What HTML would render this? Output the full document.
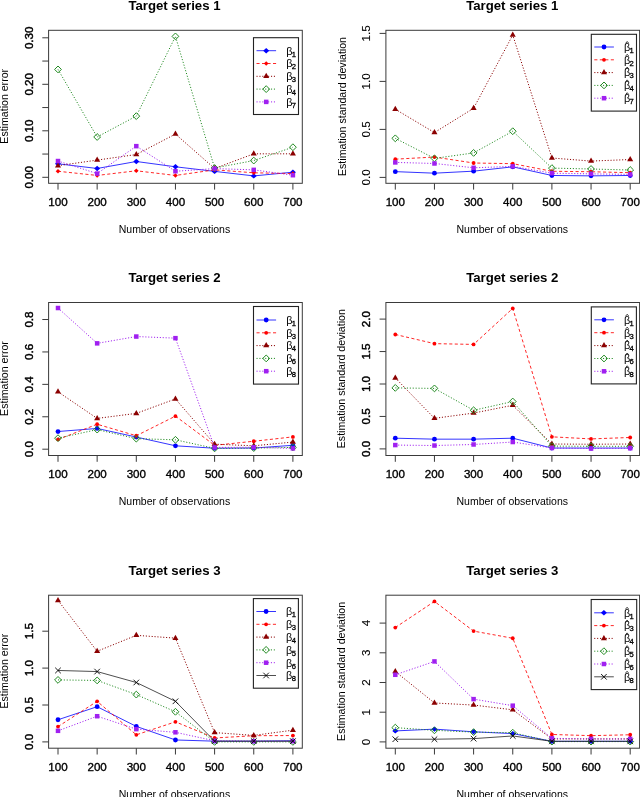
<!DOCTYPE html>
<html><head><meta charset="utf-8"><style>
html,body{margin:0;padding:0;background:#fff;width:640px;height:797px;overflow:hidden}
svg{display:block;filter:blur(0.4px)}
text{font-family:"Liberation Sans", sans-serif}
</style></head><body>
<svg width="640" height="797" viewBox="0 0 640 797" font-family='"Liberation Sans", sans-serif'>
<rect width="640" height="797" fill="#fff"/>
<path d="M58.00 163.81L97.15 168.47L136.30 161.49L175.45 166.79L214.60 171.39L253.75 175.91L292.90 172.19" fill="none" stroke="#0000FF" stroke-width="0.8"/>
<path d="M58.00 161.12L61.00 163.81L58.00 166.51L55.00 163.81Z" fill="#0000FF"/>
<path d="M97.15 165.77L100.15 168.47L97.15 171.16L94.15 168.47Z" fill="#0000FF"/>
<path d="M136.30 158.79L139.30 161.49L136.30 164.19L133.30 161.49Z" fill="#0000FF"/>
<path d="M175.45 164.09L178.45 166.79L175.45 169.49L172.45 166.79Z" fill="#0000FF"/>
<path d="M214.60 168.69L217.60 171.39L214.60 174.09L211.60 171.39Z" fill="#0000FF"/>
<path d="M253.75 173.21L256.75 175.91L253.75 178.60L250.75 175.91Z" fill="#0000FF"/>
<path d="M292.90 169.49L295.90 172.19L292.90 174.88L289.90 172.19Z" fill="#0000FF"/>
<path d="M58.00 171.26L97.15 175.44L136.30 170.79L175.45 175.44L214.60 169.86L253.75 172.79L292.90 173.58" fill="none" stroke="#FF0000" stroke-width="0.85" stroke-dasharray="3.1,2.4"/>
<path d="M58.00 168.96L60.30 171.26L58.00 173.56L55.70 171.26Z" fill="#FF0000"/>
<path d="M97.15 173.14L99.45 175.44L97.15 177.74L94.85 175.44Z" fill="#FF0000"/>
<path d="M136.30 168.49L138.60 170.79L136.30 173.09L134.00 170.79Z" fill="#FF0000"/>
<path d="M175.45 173.14L177.75 175.44L175.45 177.74L173.15 175.44Z" fill="#FF0000"/>
<path d="M214.60 167.56L216.90 169.86L214.60 172.16L212.30 169.86Z" fill="#FF0000"/>
<path d="M253.75 170.49L256.05 172.79L253.75 175.09L251.45 172.79Z" fill="#FF0000"/>
<path d="M292.90 171.28L295.20 173.58L292.90 175.88L290.60 173.58Z" fill="#FF0000"/>
<path d="M58.00 165.68L97.15 160.10L136.30 154.52L175.45 134.06L214.60 168.47L253.75 153.82L292.90 153.82" fill="none" stroke="#8B0000" stroke-width="1.0" stroke-dasharray="1.1,1.8"/>
<path d="M58.00 162.18L61.03 167.43L54.97 167.43Z" fill="#8B0000"/>
<path d="M97.15 156.60L100.18 161.85L94.12 161.85Z" fill="#8B0000"/>
<path d="M136.30 151.02L139.33 156.27L133.27 156.27Z" fill="#8B0000"/>
<path d="M175.45 130.56L178.48 135.81L172.42 135.81Z" fill="#8B0000"/>
<path d="M214.60 164.97L217.63 170.22L211.57 170.22Z" fill="#8B0000"/>
<path d="M253.75 150.32L256.78 155.57L250.72 155.57Z" fill="#8B0000"/>
<path d="M292.90 150.32L295.93 155.57L289.87 155.57Z" fill="#8B0000"/>
<path d="M58.00 69.42L97.15 136.98L136.30 116.11L175.45 36.41L214.60 168.00L253.75 160.56L292.90 147.21" fill="none" stroke="#228B22" stroke-width="1.0" stroke-dasharray="1.1,1.8"/>
<path d="M58.00 66.02L61.40 69.42L58.00 72.82L54.60 69.42Z" fill="none" stroke="#228B22" stroke-width="1"/>
<path d="M97.15 133.58L100.55 136.98L97.15 140.38L93.75 136.98Z" fill="none" stroke="#228B22" stroke-width="1"/>
<path d="M136.30 112.71L139.70 116.11L136.30 119.51L132.90 116.11Z" fill="none" stroke="#228B22" stroke-width="1"/>
<path d="M175.45 33.01L178.85 36.41L175.45 39.80L172.05 36.41Z" fill="none" stroke="#228B22" stroke-width="1"/>
<path d="M214.60 164.60L218.00 168.00L214.60 171.40L211.20 168.00Z" fill="none" stroke="#228B22" stroke-width="1"/>
<path d="M253.75 157.16L257.15 160.56L253.75 163.96L250.35 160.56Z" fill="none" stroke="#228B22" stroke-width="1"/>
<path d="M292.90 143.81L296.30 147.21L292.90 150.61L289.50 147.21Z" fill="none" stroke="#228B22" stroke-width="1"/>
<path d="M58.00 161.03L97.15 173.58L136.30 146.15L175.45 171.26L214.60 168.60L253.75 169.86L292.90 175.21" fill="none" stroke="#A020F0" stroke-width="1.0" stroke-dasharray="1.1,1.8"/>
<rect x="55.75" y="158.78" width="4.50" height="4.50" fill="#A020F0"/>
<rect x="94.90" y="171.33" width="4.50" height="4.50" fill="#A020F0"/>
<rect x="134.05" y="143.90" width="4.50" height="4.50" fill="#A020F0"/>
<rect x="173.20" y="169.01" width="4.50" height="4.50" fill="#A020F0"/>
<rect x="212.35" y="166.35" width="4.50" height="4.50" fill="#A020F0"/>
<rect x="251.50" y="167.61" width="4.50" height="4.50" fill="#A020F0"/>
<rect x="290.65" y="172.96" width="4.50" height="4.50" fill="#A020F0"/>
<rect x="48.60" y="30.30" width="253.70" height="153.00" fill="none" stroke="#3a3a3a" stroke-width="1"/>
<path d="M58.00 183.30V189.60" stroke="#3a3a3a" stroke-width="1"/>
<text x="58.00" y="206.10" font-size="11.6" font-weight="400" text-anchor="middle" fill="#000" stroke="#000" stroke-width="0.35">100</text>
<path d="M97.15 183.30V189.60" stroke="#3a3a3a" stroke-width="1"/>
<text x="97.15" y="206.10" font-size="11.6" font-weight="400" text-anchor="middle" fill="#000" stroke="#000" stroke-width="0.35">200</text>
<path d="M136.30 183.30V189.60" stroke="#3a3a3a" stroke-width="1"/>
<text x="136.30" y="206.10" font-size="11.6" font-weight="400" text-anchor="middle" fill="#000" stroke="#000" stroke-width="0.35">300</text>
<path d="M175.45 183.30V189.60" stroke="#3a3a3a" stroke-width="1"/>
<text x="175.45" y="206.10" font-size="11.6" font-weight="400" text-anchor="middle" fill="#000" stroke="#000" stroke-width="0.35">400</text>
<path d="M214.60 183.30V189.60" stroke="#3a3a3a" stroke-width="1"/>
<text x="214.60" y="206.10" font-size="11.6" font-weight="400" text-anchor="middle" fill="#000" stroke="#000" stroke-width="0.35">500</text>
<path d="M253.75 183.30V189.60" stroke="#3a3a3a" stroke-width="1"/>
<text x="253.75" y="206.10" font-size="11.6" font-weight="400" text-anchor="middle" fill="#000" stroke="#000" stroke-width="0.35">600</text>
<path d="M292.90 183.30V189.60" stroke="#3a3a3a" stroke-width="1"/>
<text x="292.90" y="206.10" font-size="11.6" font-weight="400" text-anchor="middle" fill="#000" stroke="#000" stroke-width="0.35">700</text>
<path d="M48.60 177.30H42.30" stroke="#3a3a3a" stroke-width="1"/>
<path d="M48.60 154.05H42.30" stroke="#3a3a3a" stroke-width="1"/>
<path d="M48.60 130.80H42.30" stroke="#3a3a3a" stroke-width="1"/>
<path d="M48.60 107.55H42.30" stroke="#3a3a3a" stroke-width="1"/>
<path d="M48.60 84.30H42.30" stroke="#3a3a3a" stroke-width="1"/>
<path d="M48.60 61.05H42.30" stroke="#3a3a3a" stroke-width="1"/>
<path d="M48.60 37.80H42.30" stroke="#3a3a3a" stroke-width="1"/>
<text x="33.00" y="177.30" font-size="11.6" font-weight="400" text-anchor="middle" fill="#000" transform="rotate(-90 33.00 177.30)" stroke="#000" stroke-width="0.45">0.00</text>
<text x="33.00" y="130.80" font-size="11.6" font-weight="400" text-anchor="middle" fill="#000" transform="rotate(-90 33.00 130.80)" stroke="#000" stroke-width="0.45">0.10</text>
<text x="33.00" y="84.30" font-size="11.6" font-weight="400" text-anchor="middle" fill="#000" transform="rotate(-90 33.00 84.30)" stroke="#000" stroke-width="0.45">0.20</text>
<text x="33.00" y="37.80" font-size="11.6" font-weight="400" text-anchor="middle" fill="#000" transform="rotate(-90 33.00 37.80)" stroke="#000" stroke-width="0.45">0.30</text>
<text x="174.45" y="9.90" font-size="13.2" font-weight="700" text-anchor="middle" fill="#000">Target series 1</text>
<text x="174.45" y="232.60" font-size="10.5" font-weight="400" text-anchor="middle" fill="#000">Number of observations</text>
<text x="8.20" y="106.30" font-size="10.6" font-weight="400" text-anchor="middle" fill="#000" transform="rotate(-90 8.20 106.30)">Estimation error</text>
<rect x="253.50" y="37.70" width="45.00" height="76.80" fill="#fff" stroke="#222" stroke-width="1.1"/>
<path d="M256.50 50.70L276.10 50.70" fill="none" stroke="#0000FF" stroke-width="0.8"/>
<path d="M266.20 48.00L269.20 50.70L266.20 53.40L263.20 50.70Z" fill="#0000FF"/>
<text x="286.20" y="54.50" font-size="10.8" fill="#000">β<tspan font-size="7.6" dy="2" dx="-0.6" stroke="#000" stroke-width="0.3">1</tspan></text>
<path d="M256.50 63.50L276.10 63.50" fill="none" stroke="#FF0000" stroke-width="0.85" stroke-dasharray="3.1,2.4"/>
<path d="M266.20 61.20L268.50 63.50L266.20 65.80L263.90 63.50Z" fill="#FF0000"/>
<text x="286.20" y="67.30" font-size="10.8" fill="#000">β<tspan font-size="7.6" dy="2" dx="-0.6" stroke="#000" stroke-width="0.3">2</tspan></text>
<path d="M256.50 76.30L276.10 76.30" fill="none" stroke="#8B0000" stroke-width="1.0" stroke-dasharray="1.1,1.8"/>
<path d="M266.20 72.80L269.23 78.05L263.17 78.05Z" fill="#8B0000"/>
<text x="286.20" y="80.10" font-size="10.8" fill="#000">β<tspan font-size="7.6" dy="2" dx="-0.6" stroke="#000" stroke-width="0.3">3</tspan></text>
<path d="M256.50 89.10L276.10 89.10" fill="none" stroke="#228B22" stroke-width="1.0" stroke-dasharray="1.1,1.8"/>
<path d="M266.20 85.70L269.60 89.10L266.20 92.50L262.80 89.10Z" fill="none" stroke="#228B22" stroke-width="1"/>
<text x="286.20" y="92.90" font-size="10.8" fill="#000">β<tspan font-size="7.6" dy="2" dx="-0.6" stroke="#000" stroke-width="0.3">4</tspan></text>
<path d="M256.50 101.90L276.10 101.90" fill="none" stroke="#A020F0" stroke-width="1.0" stroke-dasharray="1.1,1.8"/>
<rect x="263.95" y="99.65" width="4.50" height="4.50" fill="#A020F0"/>
<text x="286.20" y="105.70" font-size="10.8" fill="#000">β<tspan font-size="7.6" dy="2" dx="-0.6" stroke="#000" stroke-width="0.3">7</tspan></text>
<path d="M395.30 171.64L434.45 173.18L473.60 171.16L512.75 166.84L551.90 175.48L591.05 175.86L630.20 175.48" fill="none" stroke="#0000FF" stroke-width="0.8"/>
<circle cx="395.30" cy="171.64" r="2.4" fill="#0000FF"/>
<circle cx="434.45" cy="173.18" r="2.4" fill="#0000FF"/>
<circle cx="473.60" cy="171.16" r="2.4" fill="#0000FF"/>
<circle cx="512.75" cy="166.84" r="2.4" fill="#0000FF"/>
<circle cx="551.90" cy="175.48" r="2.4" fill="#0000FF"/>
<circle cx="591.05" cy="175.86" r="2.4" fill="#0000FF"/>
<circle cx="630.20" cy="175.48" r="2.4" fill="#0000FF"/>
<path d="M395.30 159.16L434.45 157.05L473.60 163.00L512.75 163.67L551.90 171.26L591.05 171.74L630.20 172.70" fill="none" stroke="#FF0000" stroke-width="0.85" stroke-dasharray="3.1,2.4"/>
<circle cx="395.30" cy="159.16" r="1.9" fill="#FF0000"/>
<circle cx="434.45" cy="157.05" r="1.9" fill="#FF0000"/>
<circle cx="473.60" cy="163.00" r="1.9" fill="#FF0000"/>
<circle cx="512.75" cy="163.67" r="1.9" fill="#FF0000"/>
<circle cx="551.90" cy="171.26" r="1.9" fill="#FF0000"/>
<circle cx="591.05" cy="171.74" r="1.9" fill="#FF0000"/>
<circle cx="630.20" cy="172.70" r="1.9" fill="#FF0000"/>
<path d="M395.30 109.24L434.45 132.57L473.60 108.28L512.75 35.03L551.90 158.01L591.05 161.08L630.20 159.54" fill="none" stroke="#8B0000" stroke-width="1.0" stroke-dasharray="1.1,1.8"/>
<path d="M395.30 105.74L398.33 110.99L392.27 110.99Z" fill="#8B0000"/>
<path d="M434.45 129.07L437.48 134.32L431.42 134.32Z" fill="#8B0000"/>
<path d="M473.60 104.78L476.63 110.03L470.57 110.03Z" fill="#8B0000"/>
<path d="M512.75 31.53L515.78 36.78L509.72 36.78Z" fill="#8B0000"/>
<path d="M551.90 154.51L554.93 159.76L548.87 159.76Z" fill="#8B0000"/>
<path d="M591.05 157.58L594.08 162.83L588.02 162.83Z" fill="#8B0000"/>
<path d="M630.20 156.05L633.23 161.29L627.17 161.29Z" fill="#8B0000"/>
<path d="M395.30 138.33L434.45 158.39L473.60 152.92L512.75 131.22L551.90 168.09L591.05 169.00L630.20 170.01" fill="none" stroke="#228B22" stroke-width="1.0" stroke-dasharray="1.1,1.8"/>
<path d="M395.30 134.93L398.70 138.33L395.30 141.73L391.90 138.33Z" fill="none" stroke="#228B22" stroke-width="1"/>
<path d="M434.45 154.99L437.85 158.39L434.45 161.79L431.05 158.39Z" fill="none" stroke="#228B22" stroke-width="1"/>
<path d="M473.60 149.52L477.00 152.92L473.60 156.32L470.20 152.92Z" fill="none" stroke="#228B22" stroke-width="1"/>
<path d="M512.75 127.82L516.15 131.22L512.75 134.62L509.35 131.22Z" fill="none" stroke="#228B22" stroke-width="1"/>
<path d="M551.90 164.69L555.30 168.09L551.90 171.49L548.50 168.09Z" fill="none" stroke="#228B22" stroke-width="1"/>
<path d="M591.05 165.60L594.45 169.00L591.05 172.40L587.65 169.00Z" fill="none" stroke="#228B22" stroke-width="1"/>
<path d="M630.20 166.61L633.60 170.01L630.20 173.41L626.80 170.01Z" fill="none" stroke="#228B22" stroke-width="1"/>
<path d="M395.30 162.42L434.45 163.48L473.60 167.80L512.75 166.36L551.90 173.18L591.05 173.85L630.20 174.42" fill="none" stroke="#A020F0" stroke-width="1.0" stroke-dasharray="1.1,1.8"/>
<rect x="393.05" y="160.17" width="4.50" height="4.50" fill="#A020F0"/>
<rect x="432.20" y="161.23" width="4.50" height="4.50" fill="#A020F0"/>
<rect x="471.35" y="165.55" width="4.50" height="4.50" fill="#A020F0"/>
<rect x="510.50" y="164.11" width="4.50" height="4.50" fill="#A020F0"/>
<rect x="549.65" y="170.93" width="4.50" height="4.50" fill="#A020F0"/>
<rect x="588.80" y="171.60" width="4.50" height="4.50" fill="#A020F0"/>
<rect x="627.95" y="172.17" width="4.50" height="4.50" fill="#A020F0"/>
<rect x="385.90" y="30.30" width="253.70" height="153.00" fill="none" stroke="#3a3a3a" stroke-width="1"/>
<path d="M395.30 183.30V189.60" stroke="#3a3a3a" stroke-width="1"/>
<text x="395.30" y="206.10" font-size="11.6" font-weight="400" text-anchor="middle" fill="#000" stroke="#000" stroke-width="0.35">100</text>
<path d="M434.45 183.30V189.60" stroke="#3a3a3a" stroke-width="1"/>
<text x="434.45" y="206.10" font-size="11.6" font-weight="400" text-anchor="middle" fill="#000" stroke="#000" stroke-width="0.35">200</text>
<path d="M473.60 183.30V189.60" stroke="#3a3a3a" stroke-width="1"/>
<text x="473.60" y="206.10" font-size="11.6" font-weight="400" text-anchor="middle" fill="#000" stroke="#000" stroke-width="0.35">300</text>
<path d="M512.75 183.30V189.60" stroke="#3a3a3a" stroke-width="1"/>
<text x="512.75" y="206.10" font-size="11.6" font-weight="400" text-anchor="middle" fill="#000" stroke="#000" stroke-width="0.35">400</text>
<path d="M551.90 183.30V189.60" stroke="#3a3a3a" stroke-width="1"/>
<text x="551.90" y="206.10" font-size="11.6" font-weight="400" text-anchor="middle" fill="#000" stroke="#000" stroke-width="0.35">500</text>
<path d="M591.05 183.30V189.60" stroke="#3a3a3a" stroke-width="1"/>
<text x="591.05" y="206.10" font-size="11.6" font-weight="400" text-anchor="middle" fill="#000" stroke="#000" stroke-width="0.35">600</text>
<path d="M630.20 183.30V189.60" stroke="#3a3a3a" stroke-width="1"/>
<text x="630.20" y="206.10" font-size="11.6" font-weight="400" text-anchor="middle" fill="#000" stroke="#000" stroke-width="0.35">700</text>
<path d="M385.90 177.40H379.60" stroke="#3a3a3a" stroke-width="1"/>
<path d="M385.90 129.40H379.60" stroke="#3a3a3a" stroke-width="1"/>
<path d="M385.90 81.40H379.60" stroke="#3a3a3a" stroke-width="1"/>
<path d="M385.90 33.40H379.60" stroke="#3a3a3a" stroke-width="1"/>
<text x="370.30" y="177.40" font-size="11.6" font-weight="400" text-anchor="middle" fill="#000" transform="rotate(-90 370.30 177.40)" stroke="#000" stroke-width="0.1">0.0</text>
<text x="370.30" y="129.40" font-size="11.6" font-weight="400" text-anchor="middle" fill="#000" transform="rotate(-90 370.30 129.40)" stroke="#000" stroke-width="0.1">0.5</text>
<text x="370.30" y="81.40" font-size="11.6" font-weight="400" text-anchor="middle" fill="#000" transform="rotate(-90 370.30 81.40)" stroke="#000" stroke-width="0.1">1.0</text>
<text x="370.30" y="33.40" font-size="11.6" font-weight="400" text-anchor="middle" fill="#000" transform="rotate(-90 370.30 33.40)" stroke="#000" stroke-width="0.1">1.5</text>
<text x="512.25" y="9.90" font-size="13.2" font-weight="700" text-anchor="middle" fill="#000">Target series 1</text>
<text x="512.25" y="232.60" font-size="10.5" font-weight="400" text-anchor="middle" fill="#000">Number of observations</text>
<text x="345.50" y="106.50" font-size="10.6" font-weight="400" text-anchor="middle" fill="#000" transform="rotate(-90 345.50 106.50)">Estimation standard deviation</text>
<rect x="591.30" y="34.30" width="45.20" height="76.80" fill="#fff" stroke="#222" stroke-width="1.1"/>
<path d="M594.30 47.00L613.90 47.00" fill="none" stroke="#0000FF" stroke-width="0.8"/>
<circle cx="604.00" cy="47.00" r="2.4" fill="#0000FF"/>
<text x="624.00" y="50.80" font-size="10.8" fill="#000">β<tspan font-size="7.6" dy="2" dx="-0.6" stroke="#000" stroke-width="0.3">1</tspan></text>
<path d="M625.80 43.10L627.20 41.50L628.60 43.10" stroke="#000" stroke-width="0.8" fill="none"/>
<path d="M594.30 59.80L613.90 59.80" fill="none" stroke="#FF0000" stroke-width="0.85" stroke-dasharray="3.1,2.4"/>
<circle cx="604.00" cy="59.80" r="1.9" fill="#FF0000"/>
<text x="624.00" y="63.60" font-size="10.8" fill="#000">β<tspan font-size="7.6" dy="2" dx="-0.6" stroke="#000" stroke-width="0.3">2</tspan></text>
<path d="M625.80 55.90L627.20 54.30L628.60 55.90" stroke="#000" stroke-width="0.8" fill="none"/>
<path d="M594.30 72.60L613.90 72.60" fill="none" stroke="#8B0000" stroke-width="1.0" stroke-dasharray="1.1,1.8"/>
<path d="M604.00 69.10L607.03 74.35L600.97 74.35Z" fill="#8B0000"/>
<text x="624.00" y="76.40" font-size="10.8" fill="#000">β<tspan font-size="7.6" dy="2" dx="-0.6" stroke="#000" stroke-width="0.3">3</tspan></text>
<path d="M625.80 68.70L627.20 67.10L628.60 68.70" stroke="#000" stroke-width="0.8" fill="none"/>
<path d="M594.30 85.40L613.90 85.40" fill="none" stroke="#228B22" stroke-width="1.0" stroke-dasharray="1.1,1.8"/>
<path d="M604.00 82.00L607.40 85.40L604.00 88.80L600.60 85.40Z" fill="none" stroke="#228B22" stroke-width="1"/>
<text x="624.00" y="89.20" font-size="10.8" fill="#000">β<tspan font-size="7.6" dy="2" dx="-0.6" stroke="#000" stroke-width="0.3">4</tspan></text>
<path d="M625.80 81.50L627.20 79.90L628.60 81.50" stroke="#000" stroke-width="0.8" fill="none"/>
<path d="M594.30 98.20L613.90 98.20" fill="none" stroke="#A020F0" stroke-width="1.0" stroke-dasharray="1.1,1.8"/>
<rect x="601.75" y="95.95" width="4.50" height="4.50" fill="#A020F0"/>
<text x="624.00" y="102.00" font-size="10.8" fill="#000">β<tspan font-size="7.6" dy="2" dx="-0.6" stroke="#000" stroke-width="0.3">7</tspan></text>
<path d="M625.80 94.30L627.20 92.70L628.60 94.30" stroke="#000" stroke-width="0.8" fill="none"/>
<path d="M58.00 431.53L97.15 428.45L136.30 437.04L175.45 445.80L214.60 448.23L253.75 448.07L292.90 445.31" fill="none" stroke="#0000FF" stroke-width="0.8"/>
<circle cx="58.00" cy="431.53" r="2.4" fill="#0000FF"/>
<circle cx="97.15" cy="428.45" r="2.4" fill="#0000FF"/>
<circle cx="136.30" cy="437.04" r="2.4" fill="#0000FF"/>
<circle cx="175.45" cy="445.80" r="2.4" fill="#0000FF"/>
<circle cx="214.60" cy="448.23" r="2.4" fill="#0000FF"/>
<circle cx="253.75" cy="448.07" r="2.4" fill="#0000FF"/>
<circle cx="292.90" cy="445.31" r="2.4" fill="#0000FF"/>
<path d="M58.00 439.47L97.15 424.24L136.30 435.75L175.45 416.13L214.60 445.31L253.75 441.26L292.90 436.88" fill="none" stroke="#FF0000" stroke-width="0.85" stroke-dasharray="3.1,2.4"/>
<circle cx="58.00" cy="439.47" r="1.9" fill="#FF0000"/>
<circle cx="97.15" cy="424.24" r="1.9" fill="#FF0000"/>
<circle cx="136.30" cy="435.75" r="1.9" fill="#FF0000"/>
<circle cx="175.45" cy="416.13" r="1.9" fill="#FF0000"/>
<circle cx="214.60" cy="445.31" r="1.9" fill="#FF0000"/>
<circle cx="253.75" cy="441.26" r="1.9" fill="#FF0000"/>
<circle cx="292.90" cy="436.88" r="1.9" fill="#FF0000"/>
<path d="M58.00 391.82L97.15 418.40L136.30 413.38L175.45 398.95L214.60 444.17L253.75 445.80L292.90 442.07" fill="none" stroke="#8B0000" stroke-width="1.0" stroke-dasharray="1.1,1.8"/>
<path d="M58.00 388.32L61.03 393.57L54.97 393.57Z" fill="#8B0000"/>
<path d="M97.15 414.90L100.18 420.15L94.12 420.15Z" fill="#8B0000"/>
<path d="M136.30 409.88L139.33 415.13L133.27 415.13Z" fill="#8B0000"/>
<path d="M175.45 395.45L178.48 400.70L172.42 400.70Z" fill="#8B0000"/>
<path d="M214.60 440.68L217.63 445.93L211.57 445.93Z" fill="#8B0000"/>
<path d="M253.75 442.30L256.78 447.55L250.72 447.55Z" fill="#8B0000"/>
<path d="M292.90 438.57L295.93 443.82L289.87 443.82Z" fill="#8B0000"/>
<path d="M58.00 438.18L97.15 429.59L136.30 438.66L175.45 439.80L214.60 448.39L253.75 448.07L292.90 447.42" fill="none" stroke="#228B22" stroke-width="1.0" stroke-dasharray="1.1,1.8"/>
<path d="M58.00 434.78L61.40 438.18L58.00 441.58L54.60 438.18Z" fill="none" stroke="#228B22" stroke-width="1"/>
<path d="M97.15 426.19L100.55 429.59L97.15 432.99L93.75 429.59Z" fill="none" stroke="#228B22" stroke-width="1"/>
<path d="M136.30 435.26L139.70 438.66L136.30 442.06L132.90 438.66Z" fill="none" stroke="#228B22" stroke-width="1"/>
<path d="M175.45 436.40L178.85 439.80L175.45 443.20L172.05 439.80Z" fill="none" stroke="#228B22" stroke-width="1"/>
<path d="M214.60 444.99L218.00 448.39L214.60 451.79L211.20 448.39Z" fill="none" stroke="#228B22" stroke-width="1"/>
<path d="M253.75 444.67L257.15 448.07L253.75 451.47L250.35 448.07Z" fill="none" stroke="#228B22" stroke-width="1"/>
<path d="M292.90 444.02L296.30 447.42L292.90 450.82L289.50 447.42Z" fill="none" stroke="#228B22" stroke-width="1"/>
<path d="M58.00 308.01L97.15 343.35L136.30 336.54L175.45 338.16L214.60 447.42L253.75 447.25L292.90 448.39" fill="none" stroke="#A020F0" stroke-width="1.0" stroke-dasharray="1.1,1.8"/>
<rect x="55.75" y="305.76" width="4.50" height="4.50" fill="#A020F0"/>
<rect x="94.90" y="341.10" width="4.50" height="4.50" fill="#A020F0"/>
<rect x="134.05" y="334.29" width="4.50" height="4.50" fill="#A020F0"/>
<rect x="173.20" y="335.91" width="4.50" height="4.50" fill="#A020F0"/>
<rect x="212.35" y="445.17" width="4.50" height="4.50" fill="#A020F0"/>
<rect x="251.50" y="445.00" width="4.50" height="4.50" fill="#A020F0"/>
<rect x="290.65" y="446.14" width="4.50" height="4.50" fill="#A020F0"/>
<rect x="48.60" y="302.50" width="253.70" height="153.00" fill="none" stroke="#3a3a3a" stroke-width="1"/>
<path d="M58.00 455.50V461.80" stroke="#3a3a3a" stroke-width="1"/>
<text x="58.00" y="478.30" font-size="11.6" font-weight="400" text-anchor="middle" fill="#000" stroke="#000" stroke-width="0.35">100</text>
<path d="M97.15 455.50V461.80" stroke="#3a3a3a" stroke-width="1"/>
<text x="97.15" y="478.30" font-size="11.6" font-weight="400" text-anchor="middle" fill="#000" stroke="#000" stroke-width="0.35">200</text>
<path d="M136.30 455.50V461.80" stroke="#3a3a3a" stroke-width="1"/>
<text x="136.30" y="478.30" font-size="11.6" font-weight="400" text-anchor="middle" fill="#000" stroke="#000" stroke-width="0.35">300</text>
<path d="M175.45 455.50V461.80" stroke="#3a3a3a" stroke-width="1"/>
<text x="175.45" y="478.30" font-size="11.6" font-weight="400" text-anchor="middle" fill="#000" stroke="#000" stroke-width="0.35">400</text>
<path d="M214.60 455.50V461.80" stroke="#3a3a3a" stroke-width="1"/>
<text x="214.60" y="478.30" font-size="11.6" font-weight="400" text-anchor="middle" fill="#000" stroke="#000" stroke-width="0.35">500</text>
<path d="M253.75 455.50V461.80" stroke="#3a3a3a" stroke-width="1"/>
<text x="253.75" y="478.30" font-size="11.6" font-weight="400" text-anchor="middle" fill="#000" stroke="#000" stroke-width="0.35">600</text>
<path d="M292.90 455.50V461.80" stroke="#3a3a3a" stroke-width="1"/>
<text x="292.90" y="478.30" font-size="11.6" font-weight="400" text-anchor="middle" fill="#000" stroke="#000" stroke-width="0.35">700</text>
<path d="M48.60 449.20H42.30" stroke="#3a3a3a" stroke-width="1"/>
<path d="M48.60 416.78H42.30" stroke="#3a3a3a" stroke-width="1"/>
<path d="M48.60 384.36H42.30" stroke="#3a3a3a" stroke-width="1"/>
<path d="M48.60 351.94H42.30" stroke="#3a3a3a" stroke-width="1"/>
<path d="M48.60 319.52H42.30" stroke="#3a3a3a" stroke-width="1"/>
<text x="33.00" y="449.20" font-size="11.6" font-weight="400" text-anchor="middle" fill="#000" transform="rotate(-90 33.00 449.20)" stroke="#000" stroke-width="0.45">0.0</text>
<text x="33.00" y="416.78" font-size="11.6" font-weight="400" text-anchor="middle" fill="#000" transform="rotate(-90 33.00 416.78)" stroke="#000" stroke-width="0.45">0.2</text>
<text x="33.00" y="384.36" font-size="11.6" font-weight="400" text-anchor="middle" fill="#000" transform="rotate(-90 33.00 384.36)" stroke="#000" stroke-width="0.45">0.4</text>
<text x="33.00" y="351.94" font-size="11.6" font-weight="400" text-anchor="middle" fill="#000" transform="rotate(-90 33.00 351.94)" stroke="#000" stroke-width="0.45">0.6</text>
<text x="33.00" y="319.52" font-size="11.6" font-weight="400" text-anchor="middle" fill="#000" transform="rotate(-90 33.00 319.52)" stroke="#000" stroke-width="0.45">0.8</text>
<text x="174.45" y="282.10" font-size="13.2" font-weight="700" text-anchor="middle" fill="#000">Target series 2</text>
<text x="174.45" y="504.80" font-size="10.5" font-weight="400" text-anchor="middle" fill="#000">Number of observations</text>
<text x="8.20" y="378.50" font-size="10.6" font-weight="400" text-anchor="middle" fill="#000" transform="rotate(-90 8.20 378.50)">Estimation error</text>
<rect x="253.50" y="306.50" width="45.00" height="77.60" fill="#fff" stroke="#222" stroke-width="1.1"/>
<path d="M256.50 320.00L276.10 320.00" fill="none" stroke="#0000FF" stroke-width="0.8"/>
<circle cx="266.20" cy="320.00" r="2.4" fill="#0000FF"/>
<text x="286.20" y="323.80" font-size="10.8" fill="#000">β<tspan font-size="7.6" dy="2" dx="-0.6" stroke="#000" stroke-width="0.3">1</tspan></text>
<path d="M256.50 332.80L276.10 332.80" fill="none" stroke="#FF0000" stroke-width="0.85" stroke-dasharray="3.1,2.4"/>
<circle cx="266.20" cy="332.80" r="1.9" fill="#FF0000"/>
<text x="286.20" y="336.60" font-size="10.8" fill="#000">β<tspan font-size="7.6" dy="2" dx="-0.6" stroke="#000" stroke-width="0.3">3</tspan></text>
<path d="M256.50 345.60L276.10 345.60" fill="none" stroke="#8B0000" stroke-width="1.0" stroke-dasharray="1.1,1.8"/>
<path d="M266.20 342.10L269.23 347.35L263.17 347.35Z" fill="#8B0000"/>
<text x="286.20" y="349.40" font-size="10.8" fill="#000">β<tspan font-size="7.6" dy="2" dx="-0.6" stroke="#000" stroke-width="0.3">4</tspan></text>
<path d="M256.50 358.40L276.10 358.40" fill="none" stroke="#228B22" stroke-width="1.0" stroke-dasharray="1.1,1.8"/>
<path d="M266.20 355.00L269.60 358.40L266.20 361.80L262.80 358.40Z" fill="none" stroke="#228B22" stroke-width="1"/>
<text x="286.20" y="362.20" font-size="10.8" fill="#000">β<tspan font-size="7.6" dy="2" dx="-0.6" stroke="#000" stroke-width="0.3">6</tspan></text>
<path d="M256.50 371.20L276.10 371.20" fill="none" stroke="#A020F0" stroke-width="1.0" stroke-dasharray="1.1,1.8"/>
<rect x="263.95" y="368.95" width="4.50" height="4.50" fill="#A020F0"/>
<text x="286.20" y="375.00" font-size="10.8" fill="#000">β<tspan font-size="7.6" dy="2" dx="-0.6" stroke="#000" stroke-width="0.3">8</tspan></text>
<path d="M395.30 438.19L434.45 439.16L473.60 439.16L512.75 438.19L551.90 448.06L591.05 448.06L630.20 448.06" fill="none" stroke="#0000FF" stroke-width="0.8"/>
<circle cx="395.30" cy="438.19" r="2.4" fill="#0000FF"/>
<circle cx="434.45" cy="439.16" r="2.4" fill="#0000FF"/>
<circle cx="473.60" cy="439.16" r="2.4" fill="#0000FF"/>
<circle cx="512.75" cy="438.19" r="2.4" fill="#0000FF"/>
<circle cx="551.90" cy="448.06" r="2.4" fill="#0000FF"/>
<circle cx="591.05" cy="448.06" r="2.4" fill="#0000FF"/>
<circle cx="630.20" cy="448.06" r="2.4" fill="#0000FF"/>
<path d="M395.30 334.48L434.45 343.63L473.60 344.41L512.75 308.39L551.90 436.83L591.05 438.91L630.20 437.48" fill="none" stroke="#FF0000" stroke-width="0.85" stroke-dasharray="3.1,2.4"/>
<circle cx="395.30" cy="334.48" r="1.9" fill="#FF0000"/>
<circle cx="434.45" cy="343.63" r="1.9" fill="#FF0000"/>
<circle cx="473.60" cy="344.41" r="1.9" fill="#FF0000"/>
<circle cx="512.75" cy="308.39" r="1.9" fill="#FF0000"/>
<circle cx="551.90" cy="436.83" r="1.9" fill="#FF0000"/>
<circle cx="591.05" cy="438.91" r="1.9" fill="#FF0000"/>
<circle cx="630.20" cy="437.48" r="1.9" fill="#FF0000"/>
<path d="M395.30 377.90L434.45 418.33L473.60 413.08L512.75 405.29L551.90 444.03L591.05 444.23L630.20 444.03" fill="none" stroke="#8B0000" stroke-width="1.0" stroke-dasharray="1.1,1.8"/>
<path d="M395.30 374.40L398.33 379.65L392.27 379.65Z" fill="#8B0000"/>
<path d="M434.45 414.83L437.48 420.08L431.42 420.08Z" fill="#8B0000"/>
<path d="M473.60 409.58L476.63 414.83L470.57 414.83Z" fill="#8B0000"/>
<path d="M512.75 401.79L515.78 407.04L509.72 407.04Z" fill="#8B0000"/>
<path d="M551.90 440.53L554.93 445.78L548.87 445.78Z" fill="#8B0000"/>
<path d="M591.05 440.73L594.08 445.98L588.02 445.98Z" fill="#8B0000"/>
<path d="M630.20 440.53L633.23 445.78L627.17 445.78Z" fill="#8B0000"/>
<path d="M395.30 387.89L434.45 388.41L473.60 410.28L512.75 401.52L551.90 446.11L591.05 446.30L630.20 446.30" fill="none" stroke="#228B22" stroke-width="1.0" stroke-dasharray="1.1,1.8"/>
<path d="M395.30 384.49L398.70 387.89L395.30 391.29L391.90 387.89Z" fill="none" stroke="#228B22" stroke-width="1"/>
<path d="M434.45 385.01L437.85 388.41L434.45 391.81L431.05 388.41Z" fill="none" stroke="#228B22" stroke-width="1"/>
<path d="M473.60 406.88L477.00 410.28L473.60 413.68L470.20 410.28Z" fill="none" stroke="#228B22" stroke-width="1"/>
<path d="M512.75 398.12L516.15 401.52L512.75 404.92L509.35 401.52Z" fill="none" stroke="#228B22" stroke-width="1"/>
<path d="M551.90 442.71L555.30 446.11L551.90 449.51L548.50 446.11Z" fill="none" stroke="#228B22" stroke-width="1"/>
<path d="M591.05 442.90L594.45 446.30L591.05 449.70L587.65 446.30Z" fill="none" stroke="#228B22" stroke-width="1"/>
<path d="M630.20 442.90L633.60 446.30L630.20 449.70L626.80 446.30Z" fill="none" stroke="#228B22" stroke-width="1"/>
<path d="M395.30 445.07L434.45 445.53L473.60 444.49L512.75 442.02L551.90 447.99L591.05 448.58L630.20 448.25" fill="none" stroke="#A020F0" stroke-width="1.0" stroke-dasharray="1.1,1.8"/>
<rect x="393.05" y="442.82" width="4.50" height="4.50" fill="#A020F0"/>
<rect x="432.20" y="443.28" width="4.50" height="4.50" fill="#A020F0"/>
<rect x="471.35" y="442.24" width="4.50" height="4.50" fill="#A020F0"/>
<rect x="510.50" y="439.77" width="4.50" height="4.50" fill="#A020F0"/>
<rect x="549.65" y="445.74" width="4.50" height="4.50" fill="#A020F0"/>
<rect x="588.80" y="446.33" width="4.50" height="4.50" fill="#A020F0"/>
<rect x="627.95" y="446.00" width="4.50" height="4.50" fill="#A020F0"/>
<rect x="385.90" y="302.50" width="253.70" height="153.00" fill="none" stroke="#3a3a3a" stroke-width="1"/>
<path d="M395.30 455.50V461.80" stroke="#3a3a3a" stroke-width="1"/>
<text x="395.30" y="478.30" font-size="11.6" font-weight="400" text-anchor="middle" fill="#000" stroke="#000" stroke-width="0.35">100</text>
<path d="M434.45 455.50V461.80" stroke="#3a3a3a" stroke-width="1"/>
<text x="434.45" y="478.30" font-size="11.6" font-weight="400" text-anchor="middle" fill="#000" stroke="#000" stroke-width="0.35">200</text>
<path d="M473.60 455.50V461.80" stroke="#3a3a3a" stroke-width="1"/>
<text x="473.60" y="478.30" font-size="11.6" font-weight="400" text-anchor="middle" fill="#000" stroke="#000" stroke-width="0.35">300</text>
<path d="M512.75 455.50V461.80" stroke="#3a3a3a" stroke-width="1"/>
<text x="512.75" y="478.30" font-size="11.6" font-weight="400" text-anchor="middle" fill="#000" stroke="#000" stroke-width="0.35">400</text>
<path d="M551.90 455.50V461.80" stroke="#3a3a3a" stroke-width="1"/>
<text x="551.90" y="478.30" font-size="11.6" font-weight="400" text-anchor="middle" fill="#000" stroke="#000" stroke-width="0.35">500</text>
<path d="M591.05 455.50V461.80" stroke="#3a3a3a" stroke-width="1"/>
<text x="591.05" y="478.30" font-size="11.6" font-weight="400" text-anchor="middle" fill="#000" stroke="#000" stroke-width="0.35">600</text>
<path d="M630.20 455.50V461.80" stroke="#3a3a3a" stroke-width="1"/>
<text x="630.20" y="478.30" font-size="11.6" font-weight="400" text-anchor="middle" fill="#000" stroke="#000" stroke-width="0.35">700</text>
<path d="M385.90 448.90H379.60" stroke="#3a3a3a" stroke-width="1"/>
<path d="M385.90 416.45H379.60" stroke="#3a3a3a" stroke-width="1"/>
<path d="M385.90 384.00H379.60" stroke="#3a3a3a" stroke-width="1"/>
<path d="M385.90 351.55H379.60" stroke="#3a3a3a" stroke-width="1"/>
<path d="M385.90 319.10H379.60" stroke="#3a3a3a" stroke-width="1"/>
<text x="370.30" y="448.90" font-size="11.6" font-weight="400" text-anchor="middle" fill="#000" transform="rotate(-90 370.30 448.90)" stroke="#000" stroke-width="0.45">0.0</text>
<text x="370.30" y="416.45" font-size="11.6" font-weight="400" text-anchor="middle" fill="#000" transform="rotate(-90 370.30 416.45)" stroke="#000" stroke-width="0.45">0.5</text>
<text x="370.30" y="384.00" font-size="11.6" font-weight="400" text-anchor="middle" fill="#000" transform="rotate(-90 370.30 384.00)" stroke="#000" stroke-width="0.45">1.0</text>
<text x="370.30" y="351.55" font-size="11.6" font-weight="400" text-anchor="middle" fill="#000" transform="rotate(-90 370.30 351.55)" stroke="#000" stroke-width="0.45">1.5</text>
<text x="370.30" y="319.10" font-size="11.6" font-weight="400" text-anchor="middle" fill="#000" transform="rotate(-90 370.30 319.10)" stroke="#000" stroke-width="0.45">2.0</text>
<text x="512.25" y="282.10" font-size="13.2" font-weight="700" text-anchor="middle" fill="#000">Target series 2</text>
<text x="512.25" y="504.80" font-size="10.5" font-weight="400" text-anchor="middle" fill="#000">Number of observations</text>
<text x="345.50" y="378.70" font-size="10.6" font-weight="400" text-anchor="middle" fill="#000" transform="rotate(-90 345.50 378.70)">Estimation standard deviation</text>
<rect x="591.30" y="306.90" width="45.10" height="77.00" fill="#fff" stroke="#222" stroke-width="1.1"/>
<path d="M594.30 319.80L613.90 319.80" fill="none" stroke="#0000FF" stroke-width="0.8"/>
<circle cx="604.00" cy="319.80" r="2.4" fill="#0000FF"/>
<text x="624.00" y="323.60" font-size="10.8" fill="#000">β<tspan font-size="7.6" dy="2" dx="-0.6" stroke="#000" stroke-width="0.3">1</tspan></text>
<path d="M625.80 315.90L627.20 314.30L628.60 315.90" stroke="#000" stroke-width="0.8" fill="none"/>
<path d="M594.30 332.70L613.90 332.70" fill="none" stroke="#FF0000" stroke-width="0.85" stroke-dasharray="3.1,2.4"/>
<circle cx="604.00" cy="332.70" r="1.9" fill="#FF0000"/>
<text x="624.00" y="336.50" font-size="10.8" fill="#000">β<tspan font-size="7.6" dy="2" dx="-0.6" stroke="#000" stroke-width="0.3">3</tspan></text>
<path d="M625.80 328.80L627.20 327.20L628.60 328.80" stroke="#000" stroke-width="0.8" fill="none"/>
<path d="M594.30 345.60L613.90 345.60" fill="none" stroke="#8B0000" stroke-width="1.0" stroke-dasharray="1.1,1.8"/>
<path d="M604.00 342.10L607.03 347.35L600.97 347.35Z" fill="#8B0000"/>
<text x="624.00" y="349.40" font-size="10.8" fill="#000">β<tspan font-size="7.6" dy="2" dx="-0.6" stroke="#000" stroke-width="0.3">4</tspan></text>
<path d="M625.80 341.70L627.20 340.10L628.60 341.70" stroke="#000" stroke-width="0.8" fill="none"/>
<path d="M594.30 358.50L613.90 358.50" fill="none" stroke="#228B22" stroke-width="1.0" stroke-dasharray="1.1,1.8"/>
<path d="M604.00 355.10L607.40 358.50L604.00 361.90L600.60 358.50Z" fill="none" stroke="#228B22" stroke-width="1"/>
<text x="624.00" y="362.30" font-size="10.8" fill="#000">β<tspan font-size="7.6" dy="2" dx="-0.6" stroke="#000" stroke-width="0.3">6</tspan></text>
<path d="M625.80 354.60L627.20 353.00L628.60 354.60" stroke="#000" stroke-width="0.8" fill="none"/>
<path d="M594.30 371.30L613.90 371.30" fill="none" stroke="#A020F0" stroke-width="1.0" stroke-dasharray="1.1,1.8"/>
<rect x="601.75" y="369.05" width="4.50" height="4.50" fill="#A020F0"/>
<text x="624.00" y="375.10" font-size="10.8" fill="#000">β<tspan font-size="7.6" dy="2" dx="-0.6" stroke="#000" stroke-width="0.3">8</tspan></text>
<path d="M625.80 367.40L627.20 365.80L628.60 367.40" stroke="#000" stroke-width="0.8" fill="none"/>
<path d="M58.00 719.76L97.15 706.70L136.30 726.40L175.45 739.98L214.60 741.16L253.75 741.16L292.90 740.79" fill="none" stroke="#0000FF" stroke-width="0.8"/>
<circle cx="58.00" cy="719.76" r="2.4" fill="#0000FF"/>
<circle cx="97.15" cy="706.70" r="2.4" fill="#0000FF"/>
<circle cx="136.30" cy="726.40" r="2.4" fill="#0000FF"/>
<circle cx="175.45" cy="739.98" r="2.4" fill="#0000FF"/>
<circle cx="214.60" cy="741.16" r="2.4" fill="#0000FF"/>
<circle cx="253.75" cy="741.16" r="2.4" fill="#0000FF"/>
<circle cx="292.90" cy="740.79" r="2.4" fill="#0000FF"/>
<path d="M58.00 726.62L97.15 701.31L136.30 734.82L175.45 721.83L214.60 737.99L253.75 735.70L292.90 735.55" fill="none" stroke="#FF0000" stroke-width="0.85" stroke-dasharray="3.1,2.4"/>
<circle cx="58.00" cy="726.62" r="1.9" fill="#FF0000"/>
<circle cx="97.15" cy="701.31" r="1.9" fill="#FF0000"/>
<circle cx="136.30" cy="734.82" r="1.9" fill="#FF0000"/>
<circle cx="175.45" cy="721.83" r="1.9" fill="#FF0000"/>
<circle cx="214.60" cy="737.99" r="1.9" fill="#FF0000"/>
<circle cx="253.75" cy="735.70" r="1.9" fill="#FF0000"/>
<circle cx="292.90" cy="735.55" r="1.9" fill="#FF0000"/>
<path d="M58.00 600.43L97.15 651.27L136.30 635.33L175.45 638.14L214.60 732.60L253.75 735.41L292.90 730.17" fill="none" stroke="#8B0000" stroke-width="1.0" stroke-dasharray="1.1,1.8"/>
<path d="M58.00 596.93L61.03 602.18L54.97 602.18Z" fill="#8B0000"/>
<path d="M97.15 647.77L100.18 653.02L94.12 653.02Z" fill="#8B0000"/>
<path d="M136.30 631.83L139.33 637.08L133.27 637.08Z" fill="#8B0000"/>
<path d="M175.45 634.64L178.48 639.89L172.42 639.89Z" fill="#8B0000"/>
<path d="M214.60 729.10L217.63 734.35L211.57 734.35Z" fill="#8B0000"/>
<path d="M253.75 731.91L256.78 737.16L250.72 737.16Z" fill="#8B0000"/>
<path d="M292.90 726.67L295.93 731.92L289.87 731.92Z" fill="#8B0000"/>
<path d="M58.00 679.91L97.15 680.42L136.30 694.59L175.45 711.79L214.60 741.90L253.75 741.90L292.90 741.90" fill="none" stroke="#228B22" stroke-width="1.0" stroke-dasharray="1.1,1.8"/>
<path d="M58.00 676.51L61.40 679.91L58.00 683.31L54.60 679.91Z" fill="none" stroke="#228B22" stroke-width="1"/>
<path d="M97.15 677.02L100.55 680.42L97.15 683.82L93.75 680.42Z" fill="none" stroke="#228B22" stroke-width="1"/>
<path d="M136.30 691.19L139.70 694.59L136.30 697.99L132.90 694.59Z" fill="none" stroke="#228B22" stroke-width="1"/>
<path d="M175.45 708.39L178.85 711.79L175.45 715.19L172.05 711.79Z" fill="none" stroke="#228B22" stroke-width="1"/>
<path d="M214.60 738.50L218.00 741.90L214.60 745.30L211.20 741.90Z" fill="none" stroke="#228B22" stroke-width="1"/>
<path d="M253.75 738.50L257.15 741.90L253.75 745.30L250.35 741.90Z" fill="none" stroke="#228B22" stroke-width="1"/>
<path d="M292.90 738.50L296.30 741.90L292.90 745.30L289.50 741.90Z" fill="none" stroke="#228B22" stroke-width="1"/>
<path d="M58.00 730.83L97.15 716.22L136.30 729.13L175.45 732.31L214.60 740.79L253.75 741.16L292.90 741.16" fill="none" stroke="#A020F0" stroke-width="1.0" stroke-dasharray="1.1,1.8"/>
<rect x="55.75" y="728.58" width="4.50" height="4.50" fill="#A020F0"/>
<rect x="94.90" y="713.97" width="4.50" height="4.50" fill="#A020F0"/>
<rect x="134.05" y="726.88" width="4.50" height="4.50" fill="#A020F0"/>
<rect x="173.20" y="730.06" width="4.50" height="4.50" fill="#A020F0"/>
<rect x="212.35" y="738.54" width="4.50" height="4.50" fill="#A020F0"/>
<rect x="251.50" y="738.91" width="4.50" height="4.50" fill="#A020F0"/>
<rect x="290.65" y="738.91" width="4.50" height="4.50" fill="#A020F0"/>
<path d="M58.00 670.46L97.15 671.57L136.30 682.49L175.45 701.31L214.60 741.16L253.75 741.16L292.90 741.16" fill="none" stroke="#222" stroke-width="0.8"/>
<path d="M55.20 667.66L60.80 673.26M55.20 673.26L60.80 667.66" stroke="#000000" stroke-width="0.9" fill="none"/>
<path d="M94.35 668.77L99.95 674.37M94.35 674.37L99.95 668.77" stroke="#000000" stroke-width="0.9" fill="none"/>
<path d="M133.50 679.69L139.10 685.29M133.50 685.29L139.10 679.69" stroke="#000000" stroke-width="0.9" fill="none"/>
<path d="M172.65 698.51L178.25 704.11M172.65 704.11L178.25 698.51" stroke="#000000" stroke-width="0.9" fill="none"/>
<path d="M211.80 738.36L217.40 743.96M211.80 743.96L217.40 738.36" stroke="#000000" stroke-width="0.9" fill="none"/>
<path d="M250.95 738.36L256.55 743.96M250.95 743.96L256.55 738.36" stroke="#000000" stroke-width="0.9" fill="none"/>
<path d="M290.10 738.36L295.70 743.96M290.10 743.96L295.70 738.36" stroke="#000000" stroke-width="0.9" fill="none"/>
<rect x="48.60" y="595.20" width="253.70" height="153.00" fill="none" stroke="#3a3a3a" stroke-width="1"/>
<path d="M58.00 748.20V754.50" stroke="#3a3a3a" stroke-width="1"/>
<text x="58.00" y="771.00" font-size="11.6" font-weight="400" text-anchor="middle" fill="#000" stroke="#000" stroke-width="0.35">100</text>
<path d="M97.15 748.20V754.50" stroke="#3a3a3a" stroke-width="1"/>
<text x="97.15" y="771.00" font-size="11.6" font-weight="400" text-anchor="middle" fill="#000" stroke="#000" stroke-width="0.35">200</text>
<path d="M136.30 748.20V754.50" stroke="#3a3a3a" stroke-width="1"/>
<text x="136.30" y="771.00" font-size="11.6" font-weight="400" text-anchor="middle" fill="#000" stroke="#000" stroke-width="0.35">300</text>
<path d="M175.45 748.20V754.50" stroke="#3a3a3a" stroke-width="1"/>
<text x="175.45" y="771.00" font-size="11.6" font-weight="400" text-anchor="middle" fill="#000" stroke="#000" stroke-width="0.35">400</text>
<path d="M214.60 748.20V754.50" stroke="#3a3a3a" stroke-width="1"/>
<text x="214.60" y="771.00" font-size="11.6" font-weight="400" text-anchor="middle" fill="#000" stroke="#000" stroke-width="0.35">500</text>
<path d="M253.75 748.20V754.50" stroke="#3a3a3a" stroke-width="1"/>
<text x="253.75" y="771.00" font-size="11.6" font-weight="400" text-anchor="middle" fill="#000" stroke="#000" stroke-width="0.35">600</text>
<path d="M292.90 748.20V754.50" stroke="#3a3a3a" stroke-width="1"/>
<text x="292.90" y="771.00" font-size="11.6" font-weight="400" text-anchor="middle" fill="#000" stroke="#000" stroke-width="0.35">700</text>
<path d="M48.60 741.90H42.30" stroke="#3a3a3a" stroke-width="1"/>
<path d="M48.60 705.00H42.30" stroke="#3a3a3a" stroke-width="1"/>
<path d="M48.60 668.10H42.30" stroke="#3a3a3a" stroke-width="1"/>
<path d="M48.60 631.20H42.30" stroke="#3a3a3a" stroke-width="1"/>
<text x="33.00" y="741.90" font-size="11.6" font-weight="400" text-anchor="middle" fill="#000" transform="rotate(-90 33.00 741.90)" stroke="#000" stroke-width="0.45">0.0</text>
<text x="33.00" y="705.00" font-size="11.6" font-weight="400" text-anchor="middle" fill="#000" transform="rotate(-90 33.00 705.00)" stroke="#000" stroke-width="0.45">0.5</text>
<text x="33.00" y="668.10" font-size="11.6" font-weight="400" text-anchor="middle" fill="#000" transform="rotate(-90 33.00 668.10)" stroke="#000" stroke-width="0.45">1.0</text>
<text x="33.00" y="631.20" font-size="11.6" font-weight="400" text-anchor="middle" fill="#000" transform="rotate(-90 33.00 631.20)" stroke="#000" stroke-width="0.45">1.5</text>
<text x="174.45" y="574.80" font-size="13.2" font-weight="700" text-anchor="middle" fill="#000">Target series 3</text>
<text x="174.45" y="797.50" font-size="10.5" font-weight="400" text-anchor="middle" fill="#000">Number of observations</text>
<text x="8.20" y="671.20" font-size="10.6" font-weight="400" text-anchor="middle" fill="#000" transform="rotate(-90 8.20 671.20)">Estimation error</text>
<rect x="253.40" y="598.60" width="45.00" height="89.60" fill="#fff" stroke="#222" stroke-width="1.1"/>
<path d="M256.40 611.50L276.00 611.50" fill="none" stroke="#0000FF" stroke-width="0.8"/>
<circle cx="266.10" cy="611.50" r="2.4" fill="#0000FF"/>
<text x="286.10" y="615.30" font-size="10.8" fill="#000">β<tspan font-size="7.6" dy="2" dx="-0.6" stroke="#000" stroke-width="0.3">1</tspan></text>
<path d="M256.40 624.30L276.00 624.30" fill="none" stroke="#FF0000" stroke-width="0.85" stroke-dasharray="3.1,2.4"/>
<circle cx="266.10" cy="624.30" r="1.9" fill="#FF0000"/>
<text x="286.10" y="628.10" font-size="10.8" fill="#000">β<tspan font-size="7.6" dy="2" dx="-0.6" stroke="#000" stroke-width="0.3">3</tspan></text>
<path d="M256.40 637.10L276.00 637.10" fill="none" stroke="#8B0000" stroke-width="1.0" stroke-dasharray="1.1,1.8"/>
<path d="M266.10 633.60L269.13 638.85L263.07 638.85Z" fill="#8B0000"/>
<text x="286.10" y="640.90" font-size="10.8" fill="#000">β<tspan font-size="7.6" dy="2" dx="-0.6" stroke="#000" stroke-width="0.3">4</tspan></text>
<path d="M256.40 649.90L276.00 649.90" fill="none" stroke="#228B22" stroke-width="1.0" stroke-dasharray="1.1,1.8"/>
<path d="M266.10 646.50L269.50 649.90L266.10 653.30L262.70 649.90Z" fill="none" stroke="#228B22" stroke-width="1"/>
<text x="286.10" y="653.70" font-size="10.8" fill="#000">β<tspan font-size="7.6" dy="2" dx="-0.6" stroke="#000" stroke-width="0.3">5</tspan></text>
<path d="M256.40 662.70L276.00 662.70" fill="none" stroke="#A020F0" stroke-width="1.0" stroke-dasharray="1.1,1.8"/>
<rect x="263.85" y="660.45" width="4.50" height="4.50" fill="#A020F0"/>
<text x="286.10" y="666.50" font-size="10.8" fill="#000">β<tspan font-size="7.6" dy="2" dx="-0.6" stroke="#000" stroke-width="0.3">6</tspan></text>
<path d="M256.40 675.50L276.00 675.50" fill="none" stroke="#222" stroke-width="0.8"/>
<path d="M263.30 672.70L268.90 678.30M263.30 678.30L268.90 672.70" stroke="#000000" stroke-width="0.9" fill="none"/>
<text x="286.10" y="679.30" font-size="10.8" fill="#000">β<tspan font-size="7.6" dy="2" dx="-0.6" stroke="#000" stroke-width="0.3">8</tspan></text>
<path d="M395.30 730.91L434.45 729.13L473.60 731.80L512.75 733.58L551.90 741.31L591.05 741.31L630.20 741.31" fill="none" stroke="#0000FF" stroke-width="0.8"/>
<path d="M395.30 728.21L398.30 730.91L395.30 733.61L392.30 730.91Z" fill="#0000FF"/>
<path d="M434.45 726.43L437.45 729.13L434.45 731.83L431.45 729.13Z" fill="#0000FF"/>
<path d="M473.60 729.10L476.60 731.80L473.60 734.50L470.60 731.80Z" fill="#0000FF"/>
<path d="M512.75 730.88L515.75 733.58L512.75 736.28L509.75 733.58Z" fill="#0000FF"/>
<path d="M551.90 738.61L554.90 741.31L551.90 744.01L548.90 741.31Z" fill="#0000FF"/>
<path d="M591.05 738.61L594.05 741.31L591.05 744.01L588.05 741.31Z" fill="#0000FF"/>
<path d="M630.20 738.61L633.20 741.31L630.20 744.01L627.20 741.31Z" fill="#0000FF"/>
<path d="M395.30 627.55L434.45 601.42L473.60 631.12L512.75 638.25L551.90 734.48L591.05 735.66L630.20 734.77" fill="none" stroke="#FF0000" stroke-width="0.85" stroke-dasharray="3.1,2.4"/>
<circle cx="395.30" cy="627.55" r="1.9" fill="#FF0000"/>
<circle cx="434.45" cy="601.42" r="1.9" fill="#FF0000"/>
<circle cx="473.60" cy="631.12" r="1.9" fill="#FF0000"/>
<circle cx="512.75" cy="638.25" r="1.9" fill="#FF0000"/>
<circle cx="551.90" cy="734.48" r="1.9" fill="#FF0000"/>
<circle cx="591.05" cy="735.66" r="1.9" fill="#FF0000"/>
<circle cx="630.20" cy="734.77" r="1.9" fill="#FF0000"/>
<path d="M395.30 671.51L434.45 702.99L473.60 705.07L512.75 709.82L551.90 738.93L591.05 738.93L630.20 738.93" fill="none" stroke="#8B0000" stroke-width="1.0" stroke-dasharray="1.1,1.8"/>
<path d="M395.30 668.01L398.33 673.26L392.27 673.26Z" fill="#8B0000"/>
<path d="M434.45 699.49L437.48 704.74L431.42 704.74Z" fill="#8B0000"/>
<path d="M473.60 701.57L476.63 706.82L470.57 706.82Z" fill="#8B0000"/>
<path d="M512.75 706.33L515.78 711.57L509.72 711.57Z" fill="#8B0000"/>
<path d="M551.90 735.43L554.93 740.68L548.87 740.68Z" fill="#8B0000"/>
<path d="M591.05 735.43L594.08 740.68L588.02 740.68Z" fill="#8B0000"/>
<path d="M630.20 735.43L633.23 740.68L627.17 740.68Z" fill="#8B0000"/>
<path d="M395.30 727.64L434.45 730.32L473.60 732.10L512.75 732.69L551.90 741.60L591.05 741.60L630.20 741.60" fill="none" stroke="#228B22" stroke-width="1.0" stroke-dasharray="1.1,1.8"/>
<path d="M395.30 724.24L398.70 727.64L395.30 731.04L391.90 727.64Z" fill="none" stroke="#228B22" stroke-width="1"/>
<path d="M434.45 726.92L437.85 730.32L434.45 733.72L431.05 730.32Z" fill="none" stroke="#228B22" stroke-width="1"/>
<path d="M473.60 728.70L477.00 732.10L473.60 735.50L470.20 732.10Z" fill="none" stroke="#228B22" stroke-width="1"/>
<path d="M512.75 729.29L516.15 732.69L512.75 736.09L509.35 732.69Z" fill="none" stroke="#228B22" stroke-width="1"/>
<path d="M551.90 738.20L555.30 741.60L551.90 745.00L548.50 741.60Z" fill="none" stroke="#228B22" stroke-width="1"/>
<path d="M591.05 738.20L594.45 741.60L591.05 745.00L587.65 741.60Z" fill="none" stroke="#228B22" stroke-width="1"/>
<path d="M630.20 738.20L633.60 741.60L630.20 745.00L626.80 741.60Z" fill="none" stroke="#228B22" stroke-width="1"/>
<path d="M395.30 674.78L434.45 661.41L473.60 699.13L512.75 705.67L551.90 738.34L591.05 738.93L630.20 738.93" fill="none" stroke="#A020F0" stroke-width="1.0" stroke-dasharray="1.1,1.8"/>
<rect x="393.05" y="672.53" width="4.50" height="4.50" fill="#A020F0"/>
<rect x="432.20" y="659.16" width="4.50" height="4.50" fill="#A020F0"/>
<rect x="471.35" y="696.88" width="4.50" height="4.50" fill="#A020F0"/>
<rect x="510.50" y="703.42" width="4.50" height="4.50" fill="#A020F0"/>
<rect x="549.65" y="736.09" width="4.50" height="4.50" fill="#A020F0"/>
<rect x="588.80" y="736.68" width="4.50" height="4.50" fill="#A020F0"/>
<rect x="627.95" y="736.68" width="4.50" height="4.50" fill="#A020F0"/>
<path d="M395.30 739.23L434.45 739.23L473.60 738.63L512.75 735.96L551.90 741.31L591.05 741.31L630.20 741.31" fill="none" stroke="#222" stroke-width="0.8"/>
<path d="M392.50 736.43L398.10 742.03M392.50 742.03L398.10 736.43" stroke="#000000" stroke-width="0.9" fill="none"/>
<path d="M431.65 736.43L437.25 742.03M431.65 742.03L437.25 736.43" stroke="#000000" stroke-width="0.9" fill="none"/>
<path d="M470.80 735.83L476.40 741.43M470.80 741.43L476.40 735.83" stroke="#000000" stroke-width="0.9" fill="none"/>
<path d="M509.95 733.16L515.55 738.76M509.95 738.76L515.55 733.16" stroke="#000000" stroke-width="0.9" fill="none"/>
<path d="M549.10 738.51L554.70 744.11M549.10 744.11L554.70 738.51" stroke="#000000" stroke-width="0.9" fill="none"/>
<path d="M588.25 738.51L593.85 744.11M588.25 744.11L593.85 738.51" stroke="#000000" stroke-width="0.9" fill="none"/>
<path d="M627.40 738.51L633.00 744.11M627.40 744.11L633.00 738.51" stroke="#000000" stroke-width="0.9" fill="none"/>
<rect x="385.90" y="595.20" width="253.70" height="153.00" fill="none" stroke="#3a3a3a" stroke-width="1"/>
<path d="M395.30 748.20V754.50" stroke="#3a3a3a" stroke-width="1"/>
<text x="395.30" y="771.00" font-size="11.6" font-weight="400" text-anchor="middle" fill="#000" stroke="#000" stroke-width="0.35">100</text>
<path d="M434.45 748.20V754.50" stroke="#3a3a3a" stroke-width="1"/>
<text x="434.45" y="771.00" font-size="11.6" font-weight="400" text-anchor="middle" fill="#000" stroke="#000" stroke-width="0.35">200</text>
<path d="M473.60 748.20V754.50" stroke="#3a3a3a" stroke-width="1"/>
<text x="473.60" y="771.00" font-size="11.6" font-weight="400" text-anchor="middle" fill="#000" stroke="#000" stroke-width="0.35">300</text>
<path d="M512.75 748.20V754.50" stroke="#3a3a3a" stroke-width="1"/>
<text x="512.75" y="771.00" font-size="11.6" font-weight="400" text-anchor="middle" fill="#000" stroke="#000" stroke-width="0.35">400</text>
<path d="M551.90 748.20V754.50" stroke="#3a3a3a" stroke-width="1"/>
<text x="551.90" y="771.00" font-size="11.6" font-weight="400" text-anchor="middle" fill="#000" stroke="#000" stroke-width="0.35">500</text>
<path d="M591.05 748.20V754.50" stroke="#3a3a3a" stroke-width="1"/>
<text x="591.05" y="771.00" font-size="11.6" font-weight="400" text-anchor="middle" fill="#000" stroke="#000" stroke-width="0.35">600</text>
<path d="M630.20 748.20V754.50" stroke="#3a3a3a" stroke-width="1"/>
<text x="630.20" y="771.00" font-size="11.6" font-weight="400" text-anchor="middle" fill="#000" stroke="#000" stroke-width="0.35">700</text>
<path d="M385.90 741.90H379.60" stroke="#3a3a3a" stroke-width="1"/>
<path d="M385.90 712.20H379.60" stroke="#3a3a3a" stroke-width="1"/>
<path d="M385.90 682.50H379.60" stroke="#3a3a3a" stroke-width="1"/>
<path d="M385.90 652.80H379.60" stroke="#3a3a3a" stroke-width="1"/>
<path d="M385.90 623.10H379.60" stroke="#3a3a3a" stroke-width="1"/>
<text x="370.30" y="741.90" font-size="11.6" font-weight="400" text-anchor="middle" fill="#000" transform="rotate(-90 370.30 741.90)" stroke="#000" stroke-width="0.1">0</text>
<text x="370.30" y="712.20" font-size="11.6" font-weight="400" text-anchor="middle" fill="#000" transform="rotate(-90 370.30 712.20)" stroke="#000" stroke-width="0.1">1</text>
<text x="370.30" y="682.50" font-size="11.6" font-weight="400" text-anchor="middle" fill="#000" transform="rotate(-90 370.30 682.50)" stroke="#000" stroke-width="0.1">2</text>
<text x="370.30" y="652.80" font-size="11.6" font-weight="400" text-anchor="middle" fill="#000" transform="rotate(-90 370.30 652.80)" stroke="#000" stroke-width="0.1">3</text>
<text x="370.30" y="623.10" font-size="11.6" font-weight="400" text-anchor="middle" fill="#000" transform="rotate(-90 370.30 623.10)" stroke="#000" stroke-width="0.1">4</text>
<text x="512.25" y="574.80" font-size="13.2" font-weight="700" text-anchor="middle" fill="#000">Target series 3</text>
<text x="512.25" y="797.50" font-size="10.5" font-weight="400" text-anchor="middle" fill="#000">Number of observations</text>
<text x="345.50" y="671.40" font-size="10.6" font-weight="400" text-anchor="middle" fill="#000" transform="rotate(-90 345.50 671.40)">Estimation standard deviation</text>
<rect x="591.20" y="599.50" width="45.50" height="90.10" fill="#fff" stroke="#222" stroke-width="1.1"/>
<path d="M594.20 612.80L613.80 612.80" fill="none" stroke="#0000FF" stroke-width="0.8"/>
<path d="M603.90 610.10L606.90 612.80L603.90 615.50L600.90 612.80Z" fill="#0000FF"/>
<text x="623.90" y="616.60" font-size="10.8" fill="#000">β<tspan font-size="7.6" dy="2" dx="-0.6" stroke="#000" stroke-width="0.3">1</tspan></text>
<path d="M625.70 608.90L627.10 607.30L628.50 608.90" stroke="#000" stroke-width="0.8" fill="none"/>
<path d="M594.20 625.60L613.80 625.60" fill="none" stroke="#FF0000" stroke-width="0.85" stroke-dasharray="3.1,2.4"/>
<circle cx="603.90" cy="625.60" r="1.9" fill="#FF0000"/>
<text x="623.90" y="629.40" font-size="10.8" fill="#000">β<tspan font-size="7.6" dy="2" dx="-0.6" stroke="#000" stroke-width="0.3">3</tspan></text>
<path d="M625.70 621.70L627.10 620.10L628.50 621.70" stroke="#000" stroke-width="0.8" fill="none"/>
<path d="M594.20 638.40L613.80 638.40" fill="none" stroke="#8B0000" stroke-width="1.0" stroke-dasharray="1.1,1.8"/>
<path d="M603.90 634.90L606.93 640.15L600.87 640.15Z" fill="#8B0000"/>
<text x="623.90" y="642.20" font-size="10.8" fill="#000">β<tspan font-size="7.6" dy="2" dx="-0.6" stroke="#000" stroke-width="0.3">4</tspan></text>
<path d="M625.70 634.50L627.10 632.90L628.50 634.50" stroke="#000" stroke-width="0.8" fill="none"/>
<path d="M594.20 651.20L613.80 651.20" fill="none" stroke="#228B22" stroke-width="1.0" stroke-dasharray="1.1,1.8"/>
<path d="M603.90 647.80L607.30 651.20L603.90 654.60L600.50 651.20Z" fill="none" stroke="#228B22" stroke-width="1"/>
<text x="623.90" y="655.00" font-size="10.8" fill="#000">β<tspan font-size="7.6" dy="2" dx="-0.6" stroke="#000" stroke-width="0.3">5</tspan></text>
<path d="M625.70 647.30L627.10 645.70L628.50 647.30" stroke="#000" stroke-width="0.8" fill="none"/>
<path d="M594.20 664.00L613.80 664.00" fill="none" stroke="#A020F0" stroke-width="1.0" stroke-dasharray="1.1,1.8"/>
<rect x="601.65" y="661.75" width="4.50" height="4.50" fill="#A020F0"/>
<text x="623.90" y="667.80" font-size="10.8" fill="#000">β<tspan font-size="7.6" dy="2" dx="-0.6" stroke="#000" stroke-width="0.3">6</tspan></text>
<path d="M625.70 660.10L627.10 658.50L628.50 660.10" stroke="#000" stroke-width="0.8" fill="none"/>
<path d="M594.20 676.80L613.80 676.80" fill="none" stroke="#222" stroke-width="0.8"/>
<path d="M601.10 674.00L606.70 679.60M601.10 679.60L606.70 674.00" stroke="#000000" stroke-width="0.9" fill="none"/>
<text x="623.90" y="680.60" font-size="10.8" fill="#000">β<tspan font-size="7.6" dy="2" dx="-0.6" stroke="#000" stroke-width="0.3">8</tspan></text>
<path d="M625.70 672.90L627.10 671.30L628.50 672.90" stroke="#000" stroke-width="0.8" fill="none"/>
</svg>
</body></html>
